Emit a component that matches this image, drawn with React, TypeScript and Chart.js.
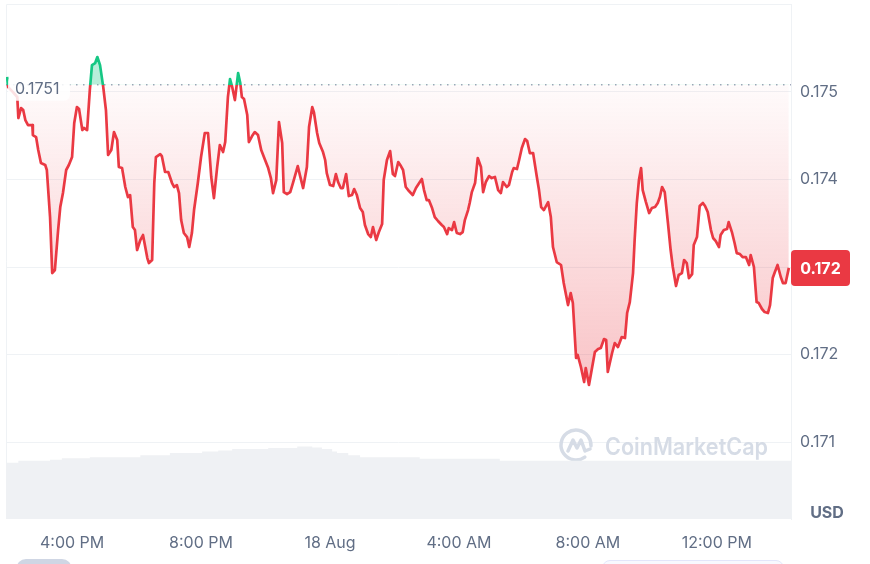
import React, { useEffect, useRef } from 'react'
import { Chart, registerables } from 'chart.js'

Chart.register(...registerables)

// minutes since 17 Aug 00:00
const times = [
    839, 841, 850, 858, 860, 865, 869, 873, 878, 886,
    887, 893, 897, 902, 910, 913, 919, 923, 928, 934,
    938, 943, 949, 954, 960, 964, 969, 973, 979, 982,
    988, 993, 997, 1003, 1007, 1012, 1018, 1023, 1027, 1033,
    1038, 1044, 1047, 1053, 1059, 1064, 1068, 1073, 1077, 1081,
    1087, 1092, 1100, 1103, 1109, 1113, 1116, 1124, 1127, 1133,
    1139, 1146, 1150, 1155, 1159, 1163, 1168, 1174, 1178, 1183,
    1187, 1194, 1200, 1207, 1213, 1219, 1224, 1230, 1235, 1241,
    1245, 1250, 1254, 1258, 1263, 1269, 1273, 1276, 1280, 1286,
    1289, 1295, 1300, 1306, 1312, 1317, 1325, 1330, 1334, 1340,
    1345, 1351, 1354, 1360, 1366, 1371, 1380, 1384, 1390, 1397,
    1401, 1407, 1410, 1416, 1420, 1427, 1431, 1434, 1440, 1446,
    1451, 1455, 1460, 1464, 1470, 1475, 1481, 1485, 1490, 1496,
    1501, 1505, 1511, 1516, 1520, 1526, 1531, 1537, 1540, 1546,
    1552, 1557, 1561, 1567, 1572, 1576, 1581, 1587, 1594, 1600,
    1606, 1611, 1615, 1620, 1624, 1630, 1635, 1641, 1648, 1652,
    1658, 1661, 1667, 1671, 1676, 1682, 1687, 1691, 1697, 1700,
    1704, 1710, 1715, 1721, 1725, 1730, 1736, 1741, 1747, 1753,
    1758, 1762, 1769, 1773, 1779, 1782, 1788, 1792, 1797, 1803,
    1807, 1812, 1818, 1825, 1829, 1833, 1838, 1846, 1851, 1855,
    1862, 1870, 1875, 1883, 1888, 1892, 1898, 1901, 1907, 1913,
    1916, 1922, 1927, 1933, 1939, 1944, 1950, 1954, 1957, 1965,
    1970, 1976, 1983, 1989, 1993, 1998, 2004, 2007, 2011, 2015,
    2019, 2022, 2028, 2034, 2039, 2045, 2050, 2054, 2058, 2063,
    2069, 2074, 2078, 2084, 2089, 2095, 2099, 2104, 2108, 2114,
    2117, 2123, 2128, 2134, 2138, 2143, 2149, 2153, 2158, 2164,
    2167, 2173, 2179, 2182, 2188, 2193, 2197, 2203, 2208, 2214,
    2220, 2223, 2229, 2234, 2238, 2244, 2249, 2255, 2259, 2264,
    2268, 2273, 2279, 2283, 2288, 2294
]

const prices = [
    0.175168, 0.175053, 0.174996, 0.174939, 0.174700, 0.174814, 0.174791, 0.174677, 0.174620, 0.174620,
    0.174506, 0.174483, 0.174335, 0.174186, 0.174164, 0.174107, 0.173570, 0.172931, 0.172966, 0.173422,
    0.173684, 0.173844, 0.174107, 0.174164, 0.174255, 0.174643, 0.174825, 0.174802, 0.174563, 0.174586,
    0.174563, 0.175019, 0.175304, 0.175327, 0.175396, 0.175304, 0.175053, 0.174791, 0.174278, 0.174335,
    0.174540, 0.174449, 0.174141, 0.174129, 0.173913, 0.173798, 0.173821, 0.173456, 0.173422, 0.173194,
    0.173308, 0.173365, 0.173102, 0.173045, 0.173080, 0.173958, 0.174255, 0.174289, 0.174266, 0.174084,
    0.174084, 0.173958, 0.173913, 0.173935, 0.173844, 0.173536, 0.173388, 0.173342, 0.173228, 0.173388,
    0.173650, 0.173958, 0.174255, 0.174529, 0.174529, 0.174027, 0.173787, 0.174141, 0.174392, 0.174312,
    0.174426, 0.174939, 0.175145, 0.175053, 0.174905, 0.175213, 0.175099, 0.174939, 0.174917, 0.174734,
    0.174426, 0.174494, 0.174540, 0.174506, 0.174335, 0.174255, 0.174129, 0.174015, 0.173844, 0.173992,
    0.174654, 0.174415, 0.173855, 0.173833, 0.173855, 0.173958, 0.174152, 0.174049, 0.173901, 0.174141,
    0.174597, 0.174825, 0.174768, 0.174529, 0.174415, 0.174312, 0.174221, 0.174072, 0.173935, 0.173924,
    0.174061, 0.173970, 0.173901, 0.173901, 0.174061, 0.173810, 0.173821, 0.173890, 0.173821, 0.173673,
    0.173627, 0.173479, 0.173376, 0.173342, 0.173456, 0.173308, 0.173399, 0.173490, 0.173992, 0.174221,
    0.174323, 0.174061, 0.174038, 0.174198, 0.174152, 0.174107, 0.173913, 0.173867, 0.173821, 0.173901,
    0.173958, 0.174004, 0.173878, 0.173764, 0.173764, 0.173673, 0.173570, 0.173525, 0.173479, 0.173456,
    0.173376, 0.173445, 0.173422, 0.173513, 0.173388, 0.173376, 0.173399, 0.173536, 0.173650, 0.173730,
    0.173855, 0.173958, 0.174243, 0.174141, 0.173855, 0.173970, 0.174038, 0.174015, 0.174027, 0.173878,
    0.173844, 0.173970, 0.173913, 0.173935, 0.174084, 0.174129, 0.174118, 0.174221, 0.174358, 0.174460,
    0.174437, 0.174300, 0.174300, 0.174027, 0.173878, 0.173684, 0.173650, 0.173741, 0.173570, 0.173228,
    0.173057, 0.173023, 0.172817, 0.172566, 0.172703, 0.172589, 0.171962, 0.171996, 0.171859, 0.171688,
    0.171848, 0.171654, 0.171825, 0.172030, 0.172064, 0.172076, 0.172178, 0.172167, 0.171802, 0.172019,
    0.172133, 0.172087, 0.172201, 0.172190, 0.172475, 0.172600, 0.172931, 0.173308, 0.173730, 0.173992,
    0.174129, 0.173878, 0.173741, 0.173616, 0.173673, 0.173684, 0.173730, 0.173798, 0.173913, 0.173855,
    0.173502, 0.173194, 0.173000, 0.172783, 0.172909, 0.172931, 0.173080, 0.173045, 0.172874, 0.172920,
    0.173251, 0.173342, 0.173696, 0.173730, 0.173696, 0.173627, 0.173422, 0.173331, 0.173296, 0.173228,
    0.173365, 0.173422, 0.173433, 0.173513, 0.173399, 0.173274, 0.173159, 0.173148, 0.173114, 0.173114,
    0.173023, 0.173137, 0.173000, 0.172600, 0.172589, 0.172521, 0.172486, 0.172475, 0.172566, 0.172874,
    0.172943, 0.173023, 0.172886, 0.172817, 0.172817, 0.172990
]

// 24h volume, millions USD
const volTimes = [837, 860, 919, 941, 993, 1087, 1142, 1202, 1232, 1258, 1325, 1379, 1407, 1425, 1444, 1453, 1474, 1496, 1607, 1756, 2298]
const volumes = [10.9, 11.3, 11.5, 11.8, 12.0, 12.4, 12.8, 13.1, 13.3, 13.6, 13.8, 14.1, 13.9, 13.6, 13.1, 12.8, 12.4, 12.0, 11.7, 11.3, 11.3]

const xTickValues = [960, 1200, 1440, 1680, 1920, 2160]
const xTickLabels = ['4:00 PM', '8:00 PM', '18 Aug', '4:00 AM', '8:00 AM', '12:00 PM']
const yTickValues = [0.175, 0.174, 0.173, 0.172, 0.171]

const basePrice = 0.17508

const RED = '#ea3943'
const GREEN = '#16c784'
const GREY = '#616e85'
const FONT = 'Inter, "DejaVu Sans", sans-serif'

const lineGradient = (chart: any) => {
    const { ctx, chartArea, scales } = chart
    if (!chartArea) return RED
    const yb = scales.y.getPixelForValue(basePrice)
    const stop = Math.min(1, Math.max(0, (yb - chartArea.top) / (chartArea.bottom - chartArea.top)))
    const g = ctx.createLinearGradient(0, chartArea.top, 0, chartArea.bottom)
    g.addColorStop(0, GREEN)
    g.addColorStop(stop, GREEN)
    g.addColorStop(stop, RED)
    g.addColorStop(1, RED)
    return g
}

const fillGradient = (chart: any) => {
    const { ctx, chartArea, scales } = chart
    if (!chartArea) return 'rgba(234,57,67,0.1)'
    const yb = scales.y.getPixelForValue(basePrice)
    const yl = scales.y.getPixelForValue(Math.min(...prices))
    const g = ctx.createLinearGradient(0, yb, 0, yl)
    g.addColorStop(0, 'rgba(234,57,67,0.02)')
    g.addColorStop(1, 'rgba(234,57,67,0.3)')
    return g
}

const decor = {
    id: 'cmcDecor',
    beforeDatasetsDraw(chart: any) {
        const { ctx, chartArea: a, scales } = chart
        ctx.save()
        ctx.strokeStyle = '#eff2f5'
        ctx.lineWidth = 1
        ctx.beginPath()
        ctx.moveTo(a.left + 0.5, a.bottom)
        ctx.lineTo(a.left + 0.5, a.top + 0.5)
        ctx.lineTo(a.right, a.top + 0.5)
        ctx.stroke()

        // watermark
        const wx = a.right - 215
        const wy = a.bottom - 74
        ctx.strokeStyle = '#d6dce6'
        ctx.lineWidth = 3.5
        ctx.lineCap = 'round'
        ctx.lineJoin = 'round'
        ctx.beginPath()
        ctx.arc(wx, wy, 15, 0.3 * Math.PI, 2.02 * Math.PI)
        ctx.stroke()
        ctx.beginPath()
        ctx.moveTo(wx - 8, wy + 6)
        ctx.lineTo(wx - 3, wy - 5)
        ctx.lineTo(wx + 1, wy + 3)
        ctx.lineTo(wx + 5, wy - 5)
        ctx.lineTo(wx + 9, wy + 6)
        ctx.lineTo(wx + 14, wy + 4)
        ctx.stroke()
        ctx.fillStyle = '#d6dce6'
        ctx.font = `600 24px ${FONT}`
        ctx.textBaseline = 'alphabetic'
        ctx.textAlign = 'left'
        ctx.fillText('CoinMarketCap', wx + 29, wy + 10, 163)

        // baseline
        const yb = scales.y.getPixelForValue(basePrice)
        ctx.setLineDash([1.5, 5.5])
        ctx.strokeStyle = '#a1a7bb'
        ctx.lineWidth = 1.5
        ctx.lineCap = 'butt'
        ctx.beginPath()
        ctx.moveTo(a.left, yb)
        ctx.lineTo(a.right, yb)
        ctx.stroke()
        ctx.restore()
    },
    afterDatasetsDraw(chart: any) {
        const { ctx, chartArea: a, scales } = chart
        ctx.save()
        const yb = scales.y.getPixelForValue(basePrice)
        ctx.fillStyle = 'rgba(255,255,255,0.85)'
        ctx.beginPath()
        ctx.roundRect(a.left + 2, yb - 9, 62, 25, 6)
        ctx.fill()
        ctx.fillStyle = GREY
        ctx.font = `16px ${FONT}`
        ctx.textAlign = 'left'
        ctx.textBaseline = 'middle'
        ctx.fillText(basePrice.toFixed(4), a.left + 9, yb + 4.5)

        const last = prices[prices.length - 1]
        const yl = scales.y.getPixelForValue(last)
        ctx.fillStyle = RED
        ctx.beginPath()
        ctx.roundRect(a.right, yl - 18, 59, 36, 4)
        ctx.fill()
        ctx.fillStyle = '#ffffff'
        ctx.font = `bold 16px ${FONT}`
        ctx.textAlign = 'center'
        ctx.fillText((Math.floor(last * 1000) / 1000).toFixed(3), a.right + 29.5, yl + 1)
        ctx.restore()
    },
    afterDraw(chart: any) {
        const { ctx, chartArea: a } = chart
        ctx.save()
        ctx.fillStyle = GREY
        ctx.font = `bold 16px ${FONT}`
        ctx.textAlign = 'center'
        ctx.textBaseline = 'middle'
        ctx.fillText('USD', a.right + 36, a.bottom - 6)
        ctx.restore()
    }
}

const PriceChart: React.FC = () => {
    const chartRef = useRef<HTMLCanvasElement>(null)
    const chartInstance = useRef<Chart | null>(null)

    useEffect(() => {
        document.body.style.margin = '0'
        if (!chartRef.current) return
        const ctx = chartRef.current.getContext('2d')
        if (!ctx) return
        if (chartInstance.current) chartInstance.current.destroy()

        chartInstance.current = new Chart(ctx, {
            type: 'line',
            data: {
                datasets: [
                    {
                        label: 'Price',
                        data: times.map((t, i) => ({ x: t, y: prices[i] })),
                        yAxisID: 'y',
                        borderColor: (c: any) => lineGradient(c.chart),
                        backgroundColor: (c: any) => fillGradient(c.chart),
                        fill: { target: { value: basePrice }, above: 'rgba(22,199,132,0.3)' },
                        borderWidth: 2.7,
                        borderJoinStyle: 'round',
                        pointRadius: 0,
                        tension: 0,
                        order: 1
                    } as any,
                    {
                        label: 'Volume',
                        data: volTimes.map((t, i) => ({ x: t, y: volumes[i] })),
                        yAxisID: 'v',
                        stepped: true,
                        fill: 'start',
                        backgroundColor: '#eff1f4',
                        borderWidth: 0,
                        pointRadius: 0,
                        order: 2
                    } as any
                ]
            },
            options: {
                animation: false,
                responsive: true,
                maintainAspectRatio: false,
                layout: { padding: { left: 6, top: 4, right: 0, bottom: 0 } },
                plugins: {
                    legend: { display: false },
                    tooltip: { enabled: false }
                },
                scales: {
                    x: {
                        type: 'linear',
                        min: 837,
                        max: 2298,
                        grid: { display: false },
                        border: { display: false },
                        afterBuildTicks: (s: any) => { s.ticks = xTickValues.map(v => ({ value: v })) },
                        afterFit: (s: any) => {
                            s.height = 45
                            s.paddingLeft = 0
                            s.paddingRight = 0
                        },
                        ticks: {
                            callback: (_v: any, i: number) => xTickLabels[i],
                            color: GREY,
                            font: { family: FONT, size: 16 },
                            padding: 7,
                            maxRotation: 0,
                            autoSkip: false
                        }
                    },
                    y: {
                        position: 'right',
                        min: 0.170125,
                        max: 0.176001,
                        afterBuildTicks: (s: any) => { s.ticks = yTickValues.map(v => ({ value: v })) },
                        afterFit: (s: any) => {
                            s.width = 79
                            s.paddingTop = 0
                            s.paddingBottom = 0
                        },
                        grid: { color: '#eff2f5', drawTicks: false },
                        border: { display: true, color: '#eff2f5' },
                        ticks: {
                            callback: (v: any) => Number(v).toFixed(3),
                            color: GREY,
                            font: { family: FONT, size: 16 },
                            padding: 9
                        }
                    },
                    v: { display: false, min: 0, max: 100 }
                }
            } as any,
            plugins: [decor]
        })

        return () => {
            if (chartInstance.current) {
                chartInstance.current.destroy()
                chartInstance.current = null
            }
        }
    }, [])

    return (
        <div style={{ position: 'relative', width: 870, height: 564, overflow: 'hidden', background: '#fff' }}>
            <canvas ref={chartRef}></canvas>
            <div style={{ position: 'absolute', left: 16, top: 559, width: 56, height: 20, borderRadius: 10, background: '#cfd6e4' }} />
            <div style={{ position: 'absolute', left: 602, top: 560, width: 180, height: 24, borderRadius: 8, border: '1px solid #e3e6fb', background: '#f8f9ff' }} />
        </div>
    )
}

export default function App() {
    return <PriceChart />
}
